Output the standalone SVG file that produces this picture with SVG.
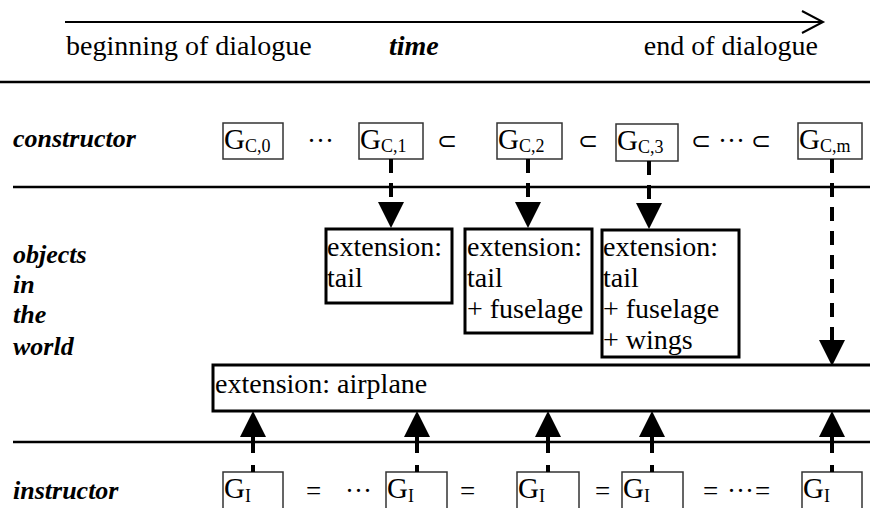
<svg xmlns="http://www.w3.org/2000/svg" width="870" height="508" viewBox="0 0 870 508">
  <style>
    text { font-family: "Liberation Serif", "Times New Roman", serif; fill: #000; }
    .hdr { font-size: 28px; }
    .lbl { font-size: 26px; font-weight: bold; font-style: italic; }
    .box { fill: #fff; stroke: #000; stroke-width: 3; }
    .gbox { fill: #fff; stroke: #333; stroke-width: 1.5; }
    .ext { font-size: 28px; }
    .g { font-size: 29px; }
    .sub { font-size: 18px; }
    .op { font-size: 27px; }
    .sup { font-size: 24px; }
    .sep { stroke: #000; stroke-width: 2.5; }
    .conn { stroke: #000; stroke-width: 4; fill: none; stroke-dasharray: 14 10; marker-end: url(#tri); }
    .up { stroke-dasharray: 7 12 40; }
  </style>
  <defs>
    <marker id="tri" markerUnits="userSpaceOnUse" markerWidth="26" markerHeight="26" refX="8" refY="13" orient="auto" overflow="visible">
      <path d="M0,0 L26,13 L0,26 Z" fill="#000"/>
    </marker>
  </defs>

  <rect width="870" height="508" fill="#fff"/>

  <!-- time axis -->
  <g id="time-axis">
    <line x1="65" y1="22" x2="823" y2="22" stroke="#000" stroke-width="2"/>
    <polyline points="802,11 823,22 802,33" fill="none" stroke="#000" stroke-width="2"/>
    <text class="hdr" x="66" y="55">beginning of dialogue</text>
    <text class="hdr" x="389" y="55" font-weight="bold" font-style="italic">time</text>
    <text class="hdr" x="818" y="55" text-anchor="end">end of dialogue</text>
  </g>

  <!-- row separators -->
  <g id="separators">
    <line class="sep" x1="0" y1="82" x2="870" y2="82"/>
    <line class="sep" x1="13" y1="187" x2="870" y2="187"/>
    <line class="sep" x1="13" y1="442" x2="870" y2="442"/>
  </g>

  <!-- row labels -->
  <g id="row-labels">
    <text class="lbl" x="13" y="147">constructor</text>
    <text class="lbl" x="13" y="263">objects</text>
    <text class="lbl" x="13" y="293">in</text>
    <text class="lbl" x="13" y="323">the</text>
    <text class="lbl" x="13" y="355">world</text>
    <text class="lbl" x="13" y="499">instructor</text>
  </g>

  <!-- constructor grammars -->
  <g id="gc0">
    <rect class="gbox" x="223" y="123" width="60" height="36"/>
    <text x="224" y="149"><tspan class="g">G</tspan><tspan class="sub" dy="3">C,0</tspan></text>
  </g>
  <g id="gc1">
    <rect class="gbox" x="359" y="123" width="64" height="36"/>
    <text x="360" y="149"><tspan class="g">G</tspan><tspan class="sub" dy="3">C,1</tspan></text>
  </g>
  <g id="gc2">
    <rect class="gbox" x="497" y="123" width="65" height="36"/>
    <text x="498" y="149"><tspan class="g">G</tspan><tspan class="sub" dy="3">C,2</tspan></text>
  </g>
  <g id="gc3">
    <rect class="gbox" x="616" y="124" width="62" height="37"/>
    <text x="617" y="150"><tspan class="g">G</tspan><tspan class="sub" dy="3">C,3</tspan></text>
  </g>
  <g id="gcm">
    <rect class="gbox" x="798" y="123" width="64" height="36"/>
    <text x="799" y="149"><tspan class="g">G</tspan><tspan class="sub" dy="3">C,m</tspan></text>
  </g>
  <g id="constructor-relations">
    <text class="op" x="307" y="150">···</text>
    <text class="sup" x="447" y="149" text-anchor="middle">⊂</text>
    <text class="sup" x="588" y="149" text-anchor="middle">⊂</text>
    <text class="sup" x="701" y="149" text-anchor="middle">⊂</text>
    <text class="op" x="718" y="150">···</text>
    <text class="sup" x="761" y="149" text-anchor="middle">⊂</text>
  </g>

  <!-- extensions in the world -->
  <g id="ext-tail">
    <rect class="box" x="326" y="229" width="126" height="74"/>
    <text class="ext" x="327" y="256">extension:</text>
    <text class="ext" x="327" y="287">tail</text>
  </g>
  <g id="ext-fuselage">
    <rect class="box" x="465" y="229" width="127" height="104"/>
    <text class="ext" x="467" y="256">extension:</text>
    <text class="ext" x="467" y="287">tail</text>
    <text class="ext" x="467" y="318">+ fuselage</text>
  </g>
  <g id="ext-wings">
    <rect class="box" x="602" y="230" width="137" height="127"/>
    <text class="ext" x="603" y="256">extension:</text>
    <text class="ext" x="603" y="287">tail</text>
    <text class="ext" x="603" y="318">+ fuselage</text>
    <text class="ext" x="603" y="349">+ wings</text>
  </g>
  <g id="ext-airplane">
    <rect class="box" x="213" y="365" width="670" height="46"/>
    <text class="ext" x="215" y="393">extension: airplane</text>
  </g>

  <!-- instructor grammars -->
  <g id="gi1">
    <rect class="gbox" x="223" y="472" width="60" height="50"/>
    <text x="224" y="498"><tspan class="g">G</tspan><tspan class="sub" dy="4">I</tspan></text>
  </g>
  <g id="gi2">
    <rect class="gbox" x="386" y="472" width="61" height="50"/>
    <text x="387" y="498"><tspan class="g">G</tspan><tspan class="sub" dy="4">I</tspan></text>
  </g>
  <g id="gi3">
    <rect class="gbox" x="517" y="472" width="62" height="50"/>
    <text x="518" y="498"><tspan class="g">G</tspan><tspan class="sub" dy="4">I</tspan></text>
  </g>
  <g id="gi4">
    <rect class="gbox" x="622" y="472" width="61" height="50"/>
    <text x="623" y="498"><tspan class="g">G</tspan><tspan class="sub" dy="4">I</tspan></text>
  </g>
  <g id="gi5">
    <rect class="gbox" x="802" y="472" width="60" height="50"/>
    <text x="803" y="498"><tspan class="g">G</tspan><tspan class="sub" dy="4">I</tspan></text>
  </g>
  <g id="instructor-relations">
    <text class="op" x="306" y="500">=</text>
    <text class="op" x="345" y="500">···</text>
    <text class="op" x="460" y="500">=</text>
    <text class="op" x="595" y="500">=</text>
    <text class="op" x="703" y="500">=</text>
    <text class="op" x="727" y="500">···</text>
    <text class="op" x="755" y="500">=</text>
  </g>

  <!-- connectors -->
  <g id="connectors">
    <line class="conn" x1="391" y1="159" x2="391" y2="210"/>
    <line class="conn" x1="528" y1="159" x2="528" y2="210"/>
    <line class="conn" x1="649" y1="161" x2="649" y2="211"/>
    <line class="conn" x1="832" y1="159" x2="832" y2="348"/>
    <line class="conn up" x1="253" y1="472" x2="253" y2="429"/>
    <line class="conn up" x1="417" y1="472" x2="417" y2="429"/>
    <line class="conn up" x1="548" y1="472" x2="548" y2="429"/>
    <line class="conn up" x1="652" y1="472" x2="652" y2="429"/>
    <line class="conn up" x1="832" y1="472" x2="832" y2="429"/>
  </g>
</svg>
